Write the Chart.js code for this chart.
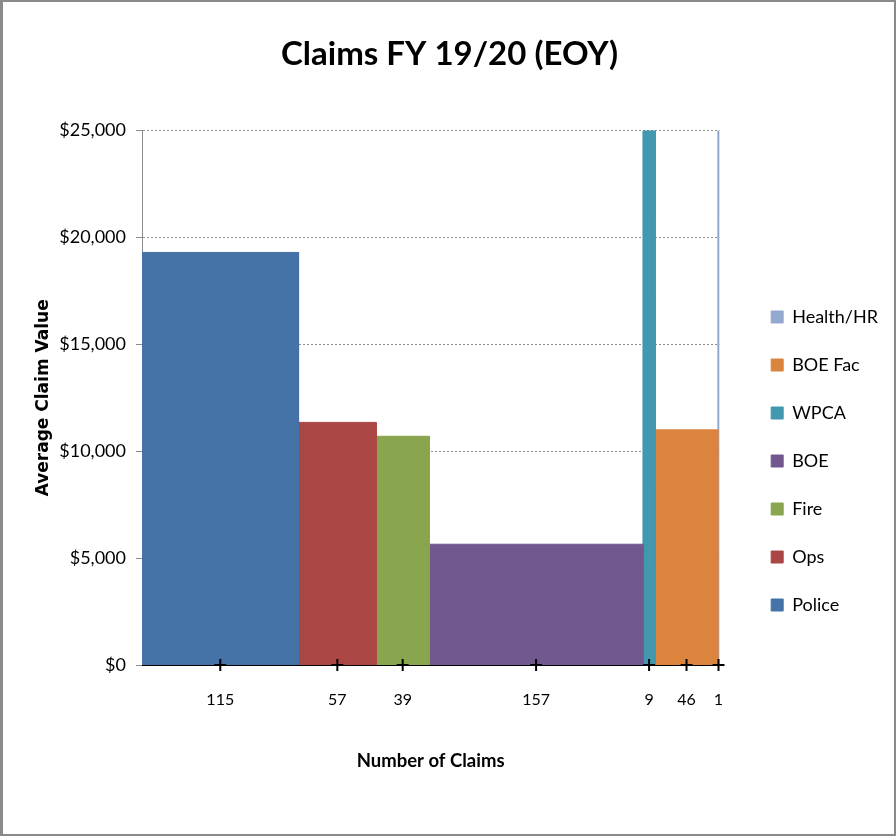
<!DOCTYPE html>
<html>
<head>
<meta charset="utf-8">
<title>Claims FY 19/20 (EOY)</title>
<script src="https://cdn.jsdelivr.net/npm/chart.js@4.4.1/dist/chart.umd.min.js"></script>
<style>
    html, body { margin: 0; padding: 0; background: #fff; }
    #wrap { position: absolute; left: 0; top: 0; width: 896px; height: 836px; }
    #frame {
        position: absolute; left: 0; top: 0; width: 896px; height: 836px;
        box-sizing: border-box; border: 2px solid #8a8a8a; border-left-width: 3px;
        pointer-events: none;
    }
</style>
</head>
<body>
<div id="wrap"><canvas id="claimsChart"></canvas></div>
<div id="frame"></div>
<script>
const departments = ['Police', 'Ops', 'Fire', 'BOE', 'WPCA', 'BOE Fac', 'Health/HR'];
const claimCounts = [115, 57, 39, 157, 9, 46, 1];
const avgClaimValue = [19300, 11350, 10700, 5650, 25000, 11000, 25000];
const barColors = ['#4572a7', '#aa4643', '#89a54e', '#71588f', '#4198af', '#db843d', '#93a9cf'];
const yTicks = [0, 5000, 10000, 15000, 20000, 25000];

// bar edges along the x axis, width = number of claims
const totalClaims = claimCounts.reduce((a, b) => a + b, 0);
const edges = [0];
claimCounts.forEach(c => edges.push(edges[edges.length - 1] + c));
const centers = claimCounts.map((c, i) => edges[i] + c / 2);

const barSets = departments.map((name, i) => ({
    label: name,
    data: [
        { x: edges[i], y: 0 },
        { x: edges[i], y: avgClaimValue[i] },
        { x: edges[i + 1], y: avgClaimValue[i] },
        { x: edges[i + 1], y: 0 }
    ],
    showLine: true,
    fill: 'origin',
    backgroundColor: barColors[i],
    borderColor: barColors[i],
    borderWidth: 1,
    pointRadius: 0,
    tension: 0,
    order: 1
}));

const tickMarks = {
    label: 'ticks',
    data: centers.map(x => ({ x: x, y: 0 })),
    pointStyle: 'cross',
    pointRadius: 6,
    borderColor: '#000',
    backgroundColor: '#000',
    borderWidth: 2,
    clip: false,
    order: 0
};

// move the legend away from the plot and down a bit
const legendNudge = {
    id: 'legendNudge',
    afterLayout(chart) {
        const lg = chart.legend;
        lg.left += 22;
        lg.right += 22;
        lg.top += 75;
        lg.bottom += 75;
    }
};

new Chart(document.getElementById('claimsChart'), {
    type: 'scatter',
    data: { datasets: [...barSets, tickMarks] },
    plugins: [legendNudge],
    options: {
        responsive: true,
        maintainAspectRatio: false,
        animation: false,
        layout: { padding: { left: 33, right: 30, top: 0, bottom: 64 } },
        plugins: {
            title: {
                display: true,
                text: 'Claims FY 19/20 (EOY)',
                color: '#000',
                font: { family: 'Lato', size: 33, weight: 'bold' },
                padding: { top: 35, bottom: 56 }
            },
            legend: {
                position: 'right',
                reverse: true,
                labels: {
                    filter: item => item.text !== 'ticks',
                    boxWidth: 12,
                    boxHeight: 12,
                    padding: 30,
                    color: '#000',
                    font: { family: 'Lato', size: 18 }
                }
            },
            tooltip: { enabled: false }
        },
        scales: {
            x: {
                type: 'linear',
                min: 0,
                max: totalClaims,
                afterBuildTicks: axis => { axis.ticks = centers.map(v => ({ value: v })); },
                afterFit: s => { s.height = 107; },
                ticks: {
                    autoSkip: false,
                    maxRotation: 0,
                    padding: 25,
                    color: '#000',
                    font: { family: 'Lato', size: 16 },
                    callback: (v, i) => claimCounts[i]
                },
                grid: { display: false, drawTicks: false },
                border: { color: '#000', width: 1, z: 1 },
                title: {
                    display: true,
                    text: 'Number of Claims',
                    color: '#000',
                    font: { family: 'Lato', size: 18.5, weight: 'bold' },
                    padding: { top: 43, bottom: 0 }
                }
            },
            y: {
                min: 0,
                max: 25000,
                afterBuildTicks: axis => { axis.ticks = yTicks.map(v => ({ value: v })); },
                afterFit: s => { s.width = 109; },
                ticks: {
                    padding: 10,
                    color: '#000',
                    font: { family: 'Lato', size: 18 },
                    callback: v => '$' + v.toLocaleString('en-US')
                },
                grid: { color: '#8c8c8c', tickColor: '#8c8c8c', tickLength: 6 },
                border: { color: '#8c8c8c', dash: [2, 2] },
                title: {
                    display: true,
                    text: 'Average Claim Value',
                    color: '#000',
                    font: { family: 'DejaVu Sans', size: 17, weight: 'bold' },
                    padding: { top: 0, bottom: 0 }
                }
            }
        }
    }
});
</script>
</body>
</html>
